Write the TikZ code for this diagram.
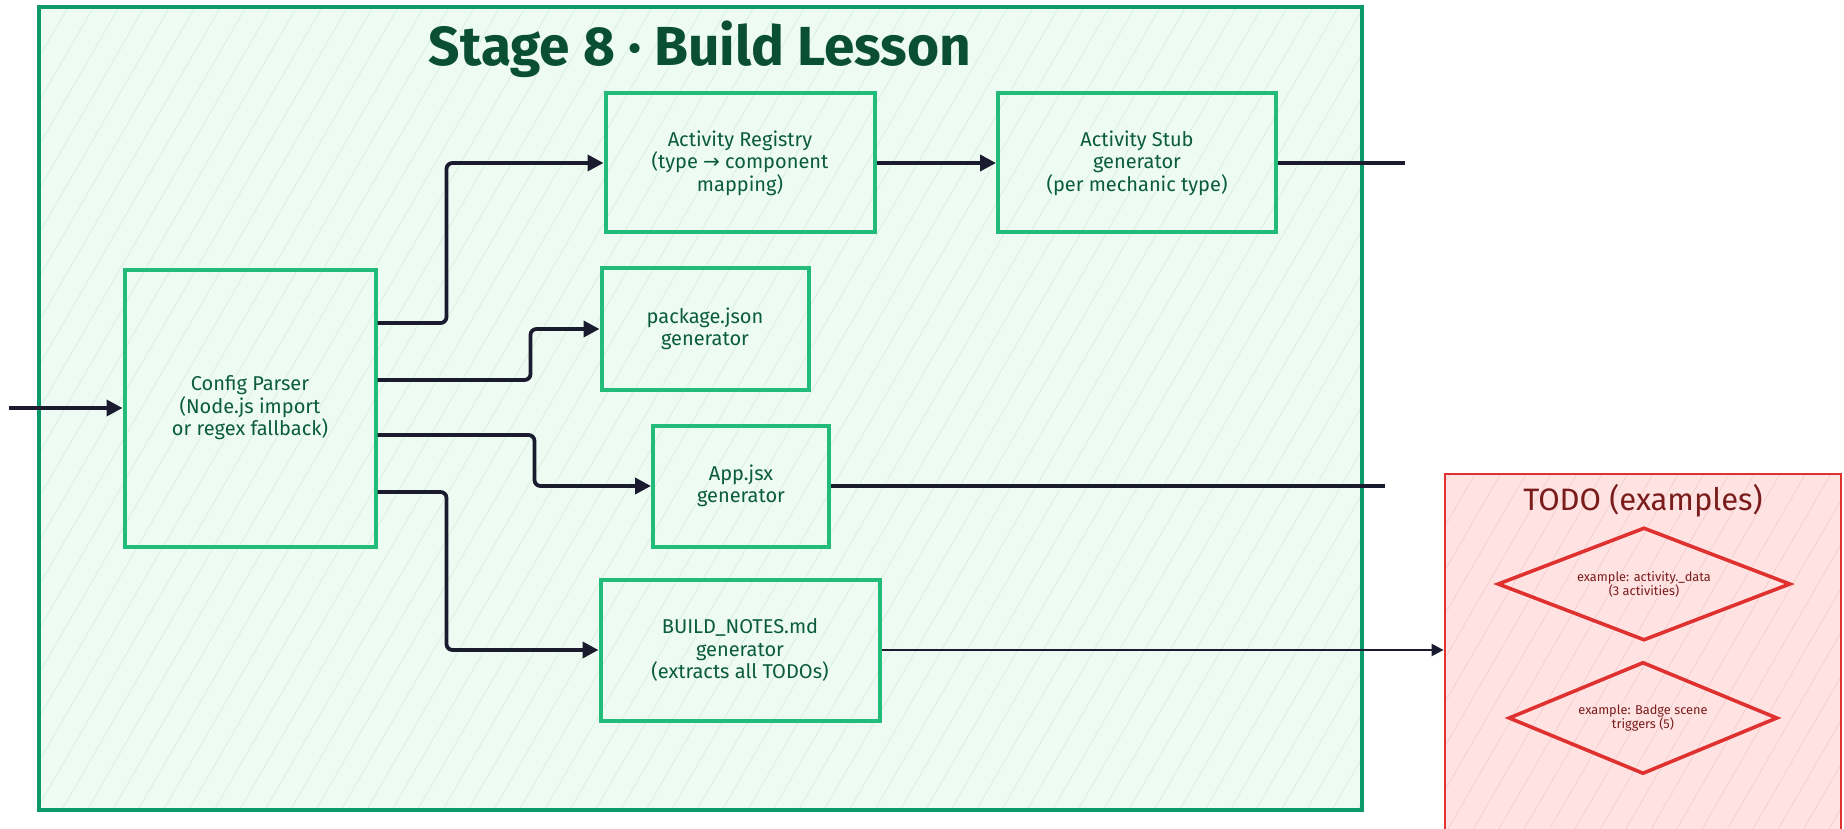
\documentclass[tikz,border=0pt]{standalone}
\usepackage{fontspec}
\setmainfont{Fira Sans}
\newfontfamily\arrowfont{DejaVu Sans}
\usetikzlibrary{arrows.meta, shapes.geometric, patterns.meta}

\definecolor{stagefill}{HTML}{EDFBF2}
\definecolor{stagehatch}{HTML}{D9EEE0}
\definecolor{stageline}{HTML}{0C9A6A}
\definecolor{boxline}{HTML}{22BB7A}
\definecolor{boxtext}{HTML}{0B5B3F}
\definecolor{titletext}{HTML}{0A4F34}
\definecolor{todofill}{HTML}{FFE3E3}
\definecolor{todohatch}{HTML}{F5CDCD}
\definecolor{todoline}{HTML}{E03131}
\definecolor{todotext}{HTML}{7A1C1C}
\definecolor{flowline}{HTML}{1B1B2F}

\begin{document}
\begin{tikzpicture}[
        x=0.5pt, y=-0.5pt, % one unit = one pixel, y goes down
        stagebox/.style = {draw=stageline, line width=1.6pt, preaction={fill=stagefill},
            pattern={Lines[angle=60, distance=11pt, line width=0.35pt]}, pattern color=stagehatch, inner sep=0pt},
        todobox/.style = {draw=todoline, line width=1.4pt, preaction={fill=todofill},
            pattern={Lines[angle=60, distance=11pt, line width=0.35pt]}, pattern color=todohatch, inner sep=0pt},
        stagetitle/.style = {text=titletext, font=\fontsize{27.5}{32}\selectfont\bfseries},
        todotitle/.style = {text=todotext, font=\fontsize{15.5}{18}\selectfont},
        block/.style = {draw=boxline, line width=2pt, text=boxtext, align=center,
            font=\fontsize{10}{11.2}\selectfont, inner sep=0pt}, % generator boxes
        todoex/.style = {diamond, aspect=2.5, draw=todoline, line width=1.8pt, text=todotext, align=center,
            font=\fontsize{6.4}{7}\selectfont, inner sep=0pt},
        flow/.style = {draw=flowline, line width=1.9pt, rounded corners=3pt, -{Triangle[length=8pt, width=8pt]}},
        wire/.style = {draw=flowline, line width=1.9pt},
        thinflow/.style = {draw=flowline, line width=1.2pt, -{Triangle[length=6pt, width=6pt]}},
    ]
    \useasboundingbox (0,0) rectangle (1844,829);

    % Stage 8 frame
    \node[stagebox, minimum width=661.5pt, minimum height=401.5pt] (stage) at (700.5,408.5) {};
    \node[stagetitle] (title) at (700,49) {Stage 8 · Build Lesson};

    \node[block, minimum width=134.5pt, minimum height=69.5pt] (reg) at (740,163)
        {Activity Registry\\(type {\arrowfont →} component\\mapping)};
    \node[block, minimum width=139pt, minimum height=69.5pt] (stub) at (1137,163)
        {Activity Stub\\generator\\(per mechanic type)};
    \node[block, minimum width=103.5pt, minimum height=61pt] (pkg) at (705,329)
        {package.json\\generator};
    \node[block, minimum width=125.5pt, minimum height=138.5pt] (parser) at (250,408)
        {Config Parser\\(Node.js import\\or regex fallback)};
    \node[block, minimum width=88pt, minimum height=60.5pt] (app) at (741,486)
        {App.jsx\\generator};
    \node[block, minimum width=139.5pt, minimum height=70.5pt] (notes) at (740,650)
        {BUILD\_NOTES.md\\generator\\(extracts all TODOs)};

    % TODO frame
    \node[todobox, minimum width=198pt, minimum height=186pt] (todo) at (1643,660) {};
    \node[todotitle] (todotitle) at (1643,501) {TODO (examples)};
    \node[todoex, minimum width=146.5pt, minimum height=56.5pt] (ex1) at (1644,584)
        {example: activity.\_data\\(3 activities)};
    \node[todoex, minimum width=134.5pt, minimum height=56pt] (ex2) at (1643,718)
        {example: Badge scene\\triggers (5)};

    % connectors
    \coordinate (src) at (9,408);
    \coordinate (stubout) at (1405,163);
    \coordinate (appout) at (1385,486);

    \draw[flow] (src) -- (parser.west);
    \draw[flow] ([yshift=42.5pt]parser.east) -- ++(69,0) |- (reg.west);
    \draw[flow] ([yshift=14pt]parser.east) -- ++(153,0) |- (pkg.west);
    \draw[flow] ([yshift=-13.5pt]parser.east) -- ++(157,0) |- (app.west);
    \draw[flow] ([yshift=-42pt]parser.east) -- ++(69,0) |- (notes.west);
    \draw[flow] (reg.east) -- (stub.west);
    \draw[wire] (stub.east) -- (stubout);
    \draw[wire] (app.east) -- (appout);
    \draw[thinflow] (notes.east) -- (notes.east -| todo.west);

\end{tikzpicture}
\end{document}
